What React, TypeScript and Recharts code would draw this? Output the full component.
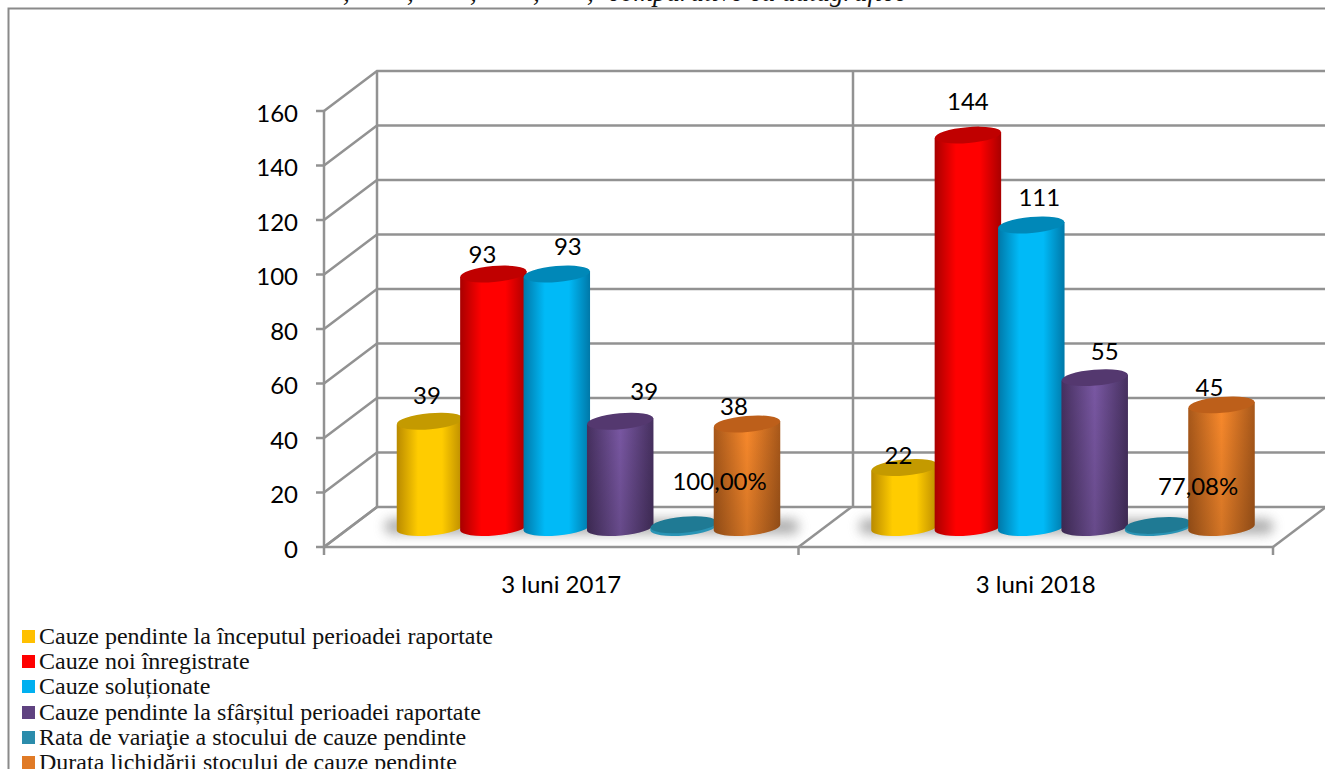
import { Bar, BarChart, CartesianGrid, LabelList, Legend, XAxis, YAxis } from "recharts"

const categories = ["3 luni 2017", "3 luni 2018"]
const startPending = [39, 22]
const newCases = [93, 144]
const solved = [93, 111]
const endPending = [39, 55]
const stockRate = [1, 0.7708]
const stockDuration = [38, 45]
const yTicks = [0, 20, 40, 60, 80, 100, 120, 140, 160]

const rows = categories.map((name, i) => ({
  name,
  startPending: startPending[i],
  newCases: newCases[i],
  solved: solved[i],
  endPending: endPending[i],
  stockRate: stockRate[i],
  stockDuration: stockDuration[i],
}))

// depth of the fake 3d box and where the cylinders sit on its floor
const DX = 53
const DY = 40
const FLOOR_X = 27.5
const FLOOR_Y = 19.5
const BAND = 474.5
const LINE = "#929292"
const LINE_W = 2.5
const LABEL_FONT = "Lato, sans-serif"

const fmtPct = (v: number) => (v * 100).toFixed(2).replace(".", ",") + "%"

const series = [
  { key: "startPending", name: "Cauze pendinte la începutul perioadei raportate", edge: "#b98a00", mid: "#ffcc00", cap: "#c49a00", swatch: "#ffc000", soft: false, nudge: [[-3, -26.5], [-6, -13.5]] },
  { key: "newCases", name: "Cauze noi înregistrate", edge: "#a80000", mid: "#ff0000", cap: "#c00000", swatch: "#ff0000", soft: false, nudge: [[-11, -20.5], [0, -34.5]] },
  { key: "solved", name: "Cauze soluționate", edge: "#0078a8", mid: "#00baf7", cap: "#0088b8", swatch: "#00b0f0", soft: false, nudge: [[11, -28.5], [8, -28.5]] },
  { key: "endPending", name: "Cauze pendinte la sfârșitul perioadei raportate", edge: "#46305f", mid: "#7a58a4", cap: "#54386f", swatch: "#5f4280", soft: true, nudge: [[24, -30.5], [10, -27.5]] },
  { key: "stockRate", name: "Rata de variaţie a stocului de cauze pendinte", edge: "#2a94b5", mid: "#2a94b5", cap: "#1f7a94", swatch: "#2b8cab", soft: false, nudge: [[36, -44.5], [40, -39.5]] },
  { key: "stockDuration", name: "Durata lichidării stocului de cauze pendinte", edge: "#a8581a", mid: "#fa8a2c", cap: "#bd5f1a", swatch: "#e07a26", soft: true, nudge: [[-13, -18.5], [-12, -18.5]] },
]

function Cylinder(props: any) {
  const { x, y, width, height, s, first } = props
  const w = width + 3.5
  const left = x - 1.75 + FLOOR_X
  const right = left + w
  const top = y - FLOOR_Y
  const bottom = y + height - FLOOR_Y
  const rx = w / 2
  const ry = 8
  const t = 3
  const body = `M${left},${top + t} L${left},${bottom + t} A${rx},${ry} -5 0 0 ${right},${bottom - t} L${right},${top - t} Z`
  return (
    <g>
      {first && (
        <rect x={left - 12} y={519} width={414} height={15} rx={7} fill="#777" opacity={0.6} filter="url(#floorShadow)" />
      )}
      <path d={body} fill={`url(#grad-${s.key})`} />
      {s.soft && <path d={body} fill="url(#fadeDown)" />}
      <ellipse cx={left + rx} cy={top} rx={rx} ry={ry} fill={s.cap} transform={`rotate(-5 ${left + rx} ${top})`} />
    </g>
  )
}

function BarLabel(props: any) {
  const { x, y, width, index, value, s } = props
  const [dx, dy] = s.nudge[index]
  const text = s.key === "stockRate" ? fmtPct(value) : String(value)
  return (
    <text x={x + width / 2 + FLOOR_X + dx} y={y - FLOOR_Y + dy} textAnchor="middle" dominantBaseline="central" fontSize={24} fontFamily={LABEL_FONT} fill="#000">
      {text}
    </text>
  )
}

function GridRow(props: any) {
  const { x1, x2, y1 } = props
  return <polyline points={`${x1},${y1} ${x1 + DX},${y1 - DY} ${x2 + DX},${y1 - DY}`} fill="none" stroke={LINE} strokeWidth={LINE_W} />
}

function GridCol(props: any) {
  const { x1, y1, y2, index } = props
  const l = x1 - BAND / 2
  const r = x1 + BAND / 2
  const back = l + DX + index * 1.5
  return (
    <g stroke={LINE} strokeWidth={LINE_W} fill="none">
      <line x1={back} y1={y1 - DY} x2={back} y2={y2 - DY} />
      <line x1={l} y1={y2} x2={l + DX} y2={y2 - DY} />
      {index === categories.length - 1 && <line x1={r} y1={y2} x2={r + DX} y2={y2 - DY} />}
    </g>
  )
}

function CategoryTick(props: any) {
  const { x, payload, index } = props
  const l = x - BAND / 2
  const r = x + BAND / 2
  return (
    <g>
      <line x1={l} y1={547} x2={l} y2={555} stroke={LINE} strokeWidth={LINE_W} />
      {index === categories.length - 1 && <line x1={r} y1={547} x2={r} y2={555} stroke={LINE} strokeWidth={LINE_W} />}
      <text x={x} y={583} textAnchor="middle" dominantBaseline="central" fontSize={24} fontFamily={LABEL_FONT} fill="#000">
        {payload.value}
      </text>
    </g>
  )
}

function LegendBox() {
  return (
    <div style={{ height: 150, fontFamily: "'Liberation Serif', serif", fontSize: 24, color: "#111" }}>
      {series.map((s) => (
        <div key={s.key} style={{ height: 25.2, lineHeight: "25.2px", display: "flex", alignItems: "center", whiteSpace: "nowrap" }}>
          <span style={{ width: 13, height: 13, background: s.swatch, marginRight: 4, flex: "none" }} />
          {s.name}
        </div>
      ))}
    </div>
  )
}

export default function App() {
  return (
    <div style={{ position: "absolute", left: 0, top: 0, width: 1325, height: 769, overflow: "hidden", background: "#fff" }}>
      <svg width={1325} height={769} style={{ position: "absolute", left: 0, top: 0 }}>
        <text y={1} fontSize={27} fontStyle="italic" fontFamily="'Liberation Serif', serif" fill="#111">
          <tspan x="343 407 470 533 587">,,,,,</tspan>
          <tspan x={608}>comparative cu datagrafice</tspan>
        </text>
        <polyline points="8.5,769 8.5,8.5 1325,8.5" fill="none" stroke="#8a8a8a" strokeWidth={2} />
      </svg>
      <BarChart
        width={1325}
        height={769}
        data={rows}
        barGap={0.4}
        barSize={63}
        margin={{ top: 111, right: 52, bottom: 32, left: 0 }}
        style={{ position: "absolute", left: 0, top: 0 }}
      >
        <defs>
          {series.map((s) => (
            <linearGradient key={s.key} id={`grad-${s.key}`} x1="0" y1="0" x2="1" y2="0">
              <stop offset="0" stopColor={s.edge} />
              <stop offset={s.soft ? "0.5" : "0.32"} stopColor={s.mid} />
              <stop offset={s.soft ? "0.5" : "0.68"} stopColor={s.mid} />
              <stop offset="1" stopColor={s.edge} />
            </linearGradient>
          ))}
          <linearGradient id="fadeDown" x1="0" y1="0" x2="0" y2="1">
            <stop offset="0" stopColor="#000" stopOpacity={0} />
            <stop offset="1" stopColor="#000" stopOpacity={0.16} />
          </linearGradient>
          <filter id="floorShadow" x="-10%" y="-150%" width="120%" height="400%">
            <feGaussianBlur stdDeviation="6" />
          </filter>
        </defs>
        <CartesianGrid horizontal={(p: any) => <GridRow {...p} />} vertical={(p: any) => <GridCol {...p} />} syncWithTicks />
        <XAxis dataKey="name" height={40} axisLine={{ stroke: LINE, strokeWidth: LINE_W }} tickLine={false} tick={<CategoryTick />} interval={0} />
        <YAxis
          width={324}
          domain={[0, 160]}
          ticks={yTicks}
          interval={0}
          tickSize={8}
          tickMargin={18}
          axisLine={{ stroke: LINE, strokeWidth: LINE_W }}
          tickLine={{ stroke: LINE, strokeWidth: LINE_W }}
          tick={{ fontSize: 24, fontFamily: LABEL_FONT, fill: "#000", dy: 2 }}
        />
        <Legend
          verticalAlign="bottom"
          content={<LegendBox />}
          wrapperStyle={{ left: 22, top: 624, width: 600, height: 150 }}
        />
        {series.map((s, i) => (
          <Bar
            key={s.key}
            dataKey={s.key}
            name={s.name}
            isAnimationActive={false}
            shape={(p: any) => <Cylinder {...p} s={s} first={i === 0} />}
          >
            <LabelList dataKey={s.key} content={(p: any) => <BarLabel {...p} s={s} />} />
          </Bar>
        ))}
      </BarChart>
    </div>
  )
}
